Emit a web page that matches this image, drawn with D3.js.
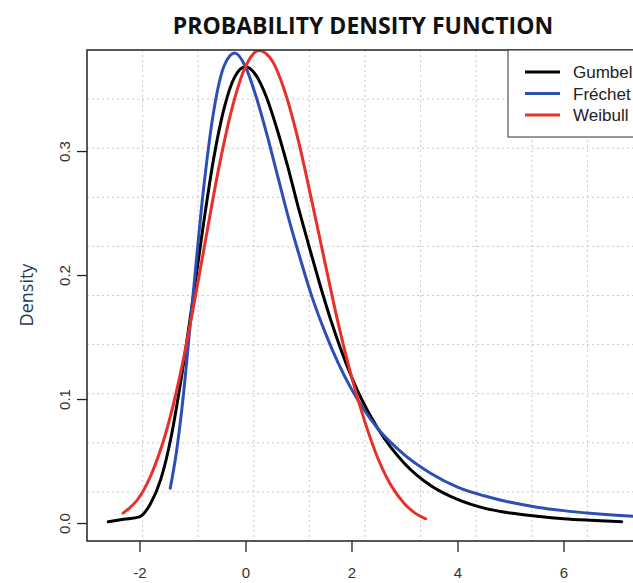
<!DOCTYPE html>
<html lang="en">
<head>
<meta charset="UTF-8">
<title>Probability Density Function</title>
<script src="https://d3js.org/d3.v7.min.js"></script>
<style>
    body { margin: 0; padding: 0; background: #fff; }
    svg { display: block; }
    .tick-label { font-family: 'Liberation Sans', Arial, sans-serif; font-size: 15px; fill: #333; }
    .legend-text { font-family: 'Liberation Sans', Arial, sans-serif; font-size: 17px; fill: #222; }
</style>
</head>
<body>
<svg id="chart" width="633" height="583"></svg>
<script>
    // tick labels
    const xTicks = [-2, 0, 2, 4, 6];
    const yTicks = [0.0, 0.1, 0.2, 0.3];
    const seriesNames = ["Gumbel", "Fréchet", "Weibull"];
    const seriesColors = ["#000000", "#2c4fb6", "#e8302b"];

    // values
    const gumbelX = [-2.59, -2.3, -2.0, -1.8, -1.6, -1.4, -1.2, -1.0, -0.8, -0.6, -0.4, -0.2, 0.0, 0.2, 0.4, 0.6, 0.8, 1.0, 1.2, 1.4, 1.6, 1.8, 2.0, 2.2, 2.5, 3.0, 3.5, 4.0, 4.5, 5.0, 5.5, 6.0, 6.5, 7.1];
    const gumbelY = [0.001, 0.003, 0.005, 0.015, 0.035, 0.07, 0.12, 0.178, 0.239, 0.294, 0.335, 0.36, 0.368, 0.361, 0.343, 0.317, 0.287, 0.254, 0.223, 0.193, 0.165, 0.14, 0.118, 0.099, 0.076, 0.048, 0.03, 0.019, 0.012, 0.008, 0.0055, 0.0035, 0.0022, 0.001];

    const frechetX = [-1.42, -1.3, -1.2, -1.0, -0.8, -0.6, -0.4, -0.2, 0.0, 0.2, 0.4, 0.6, 0.8, 1.0, 1.25, 1.5, 1.75, 2.0, 2.5, 3.0, 3.5, 4.0, 4.5, 5.0, 5.5, 6.0, 6.5, 7.0, 7.4];
    const frechetY = [0.028, 0.058, 0.092, 0.179, 0.266, 0.332, 0.369, 0.379, 0.368, 0.344, 0.314, 0.281, 0.248, 0.218, 0.183, 0.154, 0.129, 0.108, 0.076, 0.055, 0.04, 0.029, 0.022, 0.0167, 0.0128, 0.01, 0.0079, 0.0063, 0.0053];

    const weibullX = [-2.31, -2.0, -1.75, -1.5, -1.25, -1.0, -0.75, -0.5, -0.25, 0.0, 0.25, 0.5, 0.75, 1.0, 1.25, 1.5, 1.75, 2.0, 2.25, 2.5, 2.75, 3.0, 3.2, 3.4];
    const weibullY = [0.008, 0.021, 0.042, 0.073, 0.116, 0.17, 0.229, 0.287, 0.335, 0.368, 0.381, 0.373, 0.347, 0.308, 0.26, 0.21, 0.161, 0.118, 0.082, 0.052, 0.03, 0.0156, 0.008, 0.0034];

    const series = [
        { name: seriesNames[0], color: seriesColors[0], xs: gumbelX, ys: gumbelY },
        { name: seriesNames[1], color: seriesColors[1], xs: frechetX, ys: frechetY },
        { name: seriesNames[2], color: seriesColors[2], xs: weibullX, ys: weibullY }
    ];

    const box = { left: 87, top: 50, right: 643, bottom: 541 };

    const svg = d3.select("#chart");

    const x = d3.scaleLinear().domain([-2.99, 7.5]).range([box.left, box.right]);
    const y = d3.scaleLinear().domain([-0.0145, 0.3815]).range([box.bottom, box.top]);

    svg.append("defs").append("clipPath").attr("id", "plot-clip")
        .append("rect")
        .attr("x", box.left).attr("y", box.top)
        .attr("width", box.right - box.left).attr("height", box.bottom - box.top);

    // dotted grid, 10 x 10 equal cells
    const xd = x.domain(), yd = y.domain();
    const gridX = d3.range(1, 10).map(k => xd[0] + k * (xd[1] - xd[0]) / 10);
    const gridY = d3.range(1, 10).map(k => yd[0] + k * (yd[1] - yd[0]) / 10);

    const grid = svg.append("g")
        .attr("stroke", "#c8c8c8")
        .attr("stroke-width", 1)
        .attr("stroke-dasharray", "2,3");

    grid.selectAll(".gx").data(gridX).enter().append("line")
        .attr("x1", d => x(d)).attr("x2", d => x(d))
        .attr("y1", box.top).attr("y2", box.bottom);

    grid.selectAll(".gy").data(gridY).enter().append("line")
        .attr("x1", box.left).attr("x2", box.right)
        .attr("y1", d => y(d)).attr("y2", d => y(d));

    // curves
    const line = d3.line()
        .x(d => x(d[0]))
        .y(d => y(d[1]))
        .curve(d3.curveMonotoneX);

    svg.append("g").attr("clip-path", "url(#plot-clip)")
        .selectAll("path")
        .data(series)
        .enter().append("path")
        .attr("fill", "none")
        .attr("stroke", d => d.color)
        .attr("stroke-width", 3)
        .attr("stroke-linejoin", "round")
        .attr("stroke-linecap", "round")
        .attr("d", d => line(d.xs.map((v, i) => [v, d.ys[i]])));

    // plot box
    svg.append("rect")
        .attr("x", box.left).attr("y", box.top)
        .attr("width", box.right - box.left).attr("height", box.bottom - box.top)
        .attr("fill", "none")
        .attr("stroke", "#222")
        .attr("stroke-width", 1.5);

    // x axis (plain hyphen for negatives, like R)
    const xAxis = svg.append("g")
        .attr("transform", "translate(0," + box.bottom + ")")
        .call(d3.axisBottom(x).tickValues(xTicks).tickSize(11).tickPadding(15).tickFormat(d => String(d)));
    xAxis.select(".domain").remove();
    xAxis.selectAll(".tick line").attr("stroke", "#222").attr("stroke-width", 1.3);
    xAxis.selectAll(".tick text").attr("class", "tick-label").attr("font-family", null).attr("font-size", null).attr("fill", null);

    // y axis, labels rotated like R
    const yAxis = svg.append("g")
        .attr("transform", "translate(" + box.left + ",0)")
        .call(d3.axisLeft(y).tickValues(yTicks).tickSize(10).tickFormat(d => d.toFixed(1)));
    yAxis.select(".domain").remove();
    yAxis.selectAll(".tick line").attr("stroke", "#222").attr("stroke-width", 1.3);
    yAxis.selectAll(".tick text")
        .attr("class", "tick-label")
        .attr("font-family", null).attr("font-size", null).attr("fill", null)
        .attr("x", null).attr("dy", null)
        .attr("text-anchor", "middle")
        .attr("transform", "translate(-17,0) rotate(-90)");

    // axis title
    svg.append("text")
        .attr("transform", "translate(33,295) rotate(-90)")
        .attr("text-anchor", "middle")
        .attr("font-family", "'Open Sans', sans-serif")
        .attr("font-size", 18)
        .attr("fill", "#1f3b5a")
        .text("Density");

    // chart title
    svg.append("text")
        .attr("x", 363).attr("y", 34)
        .attr("text-anchor", "middle")
        .attr("font-family", "'Open Sans', sans-serif")
        .attr("font-weight", 700)
        .attr("font-size", 23)
        .attr("fill", "#111")
        .text("PROBABILITY DENSITY FUNCTION");

    // legend
    const legend = svg.append("g");
    legend.append("rect")
        .attr("x", 508).attr("y", box.top)
        .attr("width", 160).attr("height", 87)
        .attr("fill", "#fff")
        .attr("stroke", "#333")
        .attr("stroke-width", 1);

    const items = legend.selectAll(".legend-item")
        .data(series)
        .enter().append("g")
        .attr("class", "legend-item")
        .attr("transform", (d, i) => "translate(0," + (72 + i * 21.5) + ")");

    items.append("line")
        .attr("x1", 525).attr("x2", 560)
        .attr("stroke", d => d.color)
        .attr("stroke-width", 3);

    items.append("text")
        .attr("class", "legend-text")
        .attr("x", 573).attr("y", 6)
        .text(d => d.name);
</script>
</body>
</html>
